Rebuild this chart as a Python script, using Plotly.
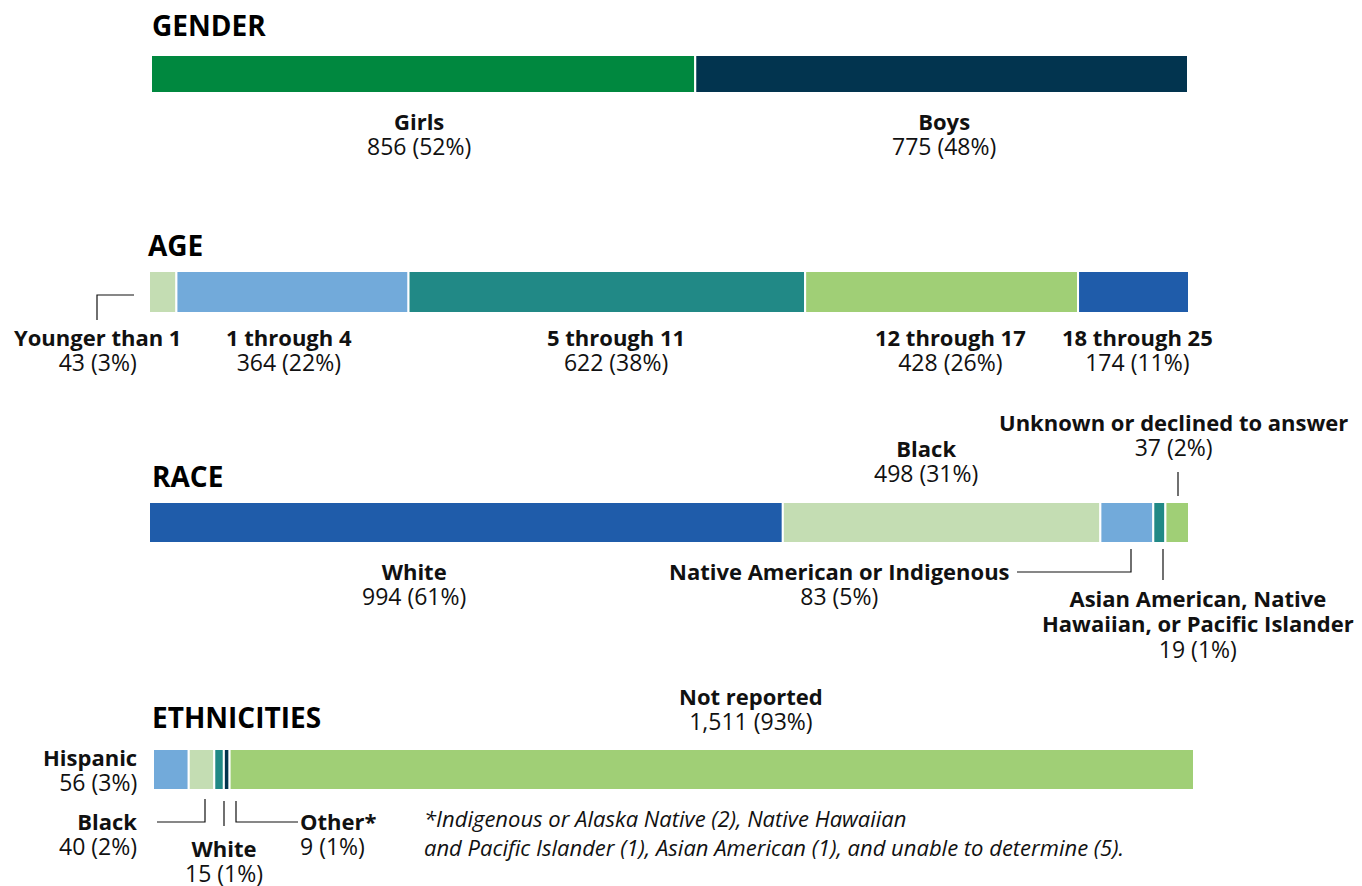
import plotly.graph_objects as go

W, H = 1362, 886

# ---------------- data ----------------
section_titles = ["GENDER", "AGE", "RACE", "ETHNICITIES"]

gender_labels = ["Girls", "Boys"]
gender_values = [856, 775]
gender_pcts = [52, 48]

age_labels = ["Younger than 1", "1 through 4", "5 through 11", "12 through 17", "18 through 25"]
age_values = [43, 364, 622, 428, 174]
age_pcts = [3, 22, 38, 26, 11]

race_labels = ["White", "Black", "Native American or Indigenous",
               "Asian American, Native<br>Hawaiian, or Pacific Islander",
               "Unknown or declined to answer"]
race_values = [994, 498, 83, 19, 37]
race_pcts = [61, 31, 5, 1, 2]

eth_labels = ["Hispanic", "Black", "White", "Other*", "Not reported"]
eth_values = [56, 40, 15, 9, 1511]
eth_pcts = [3, 2, 1, 1, 93]

footnote = ("*Indigenous or Alaska Native (2), Native Hawaiian<br>"
            "and Pacific Islander (1), Asian American (1), and unable to determine (5).")

# ---------------- styles / layout ----------------
FONT = "'Open Sans', Roboto, sans-serif"
TXT = "#111111"
C_GREEN = "#00883F"
C_NAVY = "#02344F"
C_PALE = "#C4DDB3"
C_LBLUE = "#72AADA"
C_TEAL = "#218986"
C_LGREEN = "#A0CF76"
C_BLUE = "#1F5CAA"

# pos entries: (x, y centre of the whole text block, anchor)
rows = [
    dict(labels=gender_labels, values=gender_values, pcts=gender_pcts,
         colors=[C_GREEN, C_NAVY], x0=151, x1=1188, y0=55, y1=93,
         title=(151, 25),
         pos=[(419, 133.5, "center"), (944, 133.5, "center")]),
    dict(labels=age_labels, values=age_values, pcts=age_pcts,
         colors=[C_PALE, C_LBLUE, C_TEAL, C_LGREEN, C_BLUE], x0=149, x1=1189, y0=271, y1=313,
         title=(147, 245),
         pos=[(97, 350.5, "center"), (289, 350.5, "center"), (616, 350.5, "center"),
              (950, 350.5, "center"), (1137, 350.5, "center")]),
    dict(labels=race_labels, values=race_values, pcts=race_pcts,
         colors=[C_BLUE, C_PALE, C_LBLUE, C_TEAL, C_LGREEN], x0=149, x1=1189, y0=502, y1=543,
         title=(151, 476),
         pos=[(414, 584, "center"), (926, 460.5, "center"), (839, 584, "center"),
              (1198, 624, "center"), (1173, 435, "center")]),
    dict(labels=eth_labels, values=eth_values, pcts=eth_pcts,
         colors=[C_LBLUE, C_PALE, C_TEAL, C_NAVY, C_LGREEN], x0=153, x1=1194, y0=749, y1=790,
         title=(151, 717),
         pos=[(138, 770, "right"), (138, 833.5, "right"), (224, 860.5, "center"),
              (299, 833.5, "left"), (751, 708.5, "center")]),
]

footnote_pos = (423, 832)

leaders = [
    [(97, 320), (97, 295), (134, 295)],
    [(1178, 472), (1178, 496)],
    [(1131, 549), (1131, 572), (1017, 572)],
    [(1163, 549), (1163, 580)],
    [(205, 799), (205, 822), (157, 822)],
    [(224, 801), (224, 826)],
    [(236, 801), (236, 822), (298, 822)],
]

BASE_SIZE = 19.5   # sets the 25-26 px line pitch
BOLD_SIZE = 22
VALUE_SIZE = 23
TITLE_SIZE = 28
NOTE_SIZE = 22


def px(x):
    return x / W


def py(y):
    return 1 - y / H


def text_ann(text, x, y, anchor, size, color=TXT):
    return dict(text=text, x=px(x), y=py(y), xref="paper", yref="paper",
                xanchor=anchor, yanchor="middle", align=anchor, showarrow=False,
                borderpad=0, font=dict(family=FONT, size=size, color=color))


fig = go.Figure()
annotations = []
layout_axes = {}

for i, r in enumerate(rows):
    n = "" if i == 0 else str(i + 1)
    total = sum(r["values"])
    bases = []
    acc = 0
    for v in r["values"]:
        bases.append(acc)
        acc += v
    fig.add_trace(go.Bar(
        orientation="h",
        x=r["values"], base=bases, y=[0] * len(r["values"]),
        width=1,
        marker=dict(color=r["colors"], line=dict(color="white", width=2)),
        xaxis="x" + n, yaxis="y" + n, showlegend=False, hoverinfo="skip",
    ))
    layout_axes["xaxis" + n] = dict(domain=[px(r["x0"]), px(r["x1"])], range=[0, total],
                                    visible=False, anchor="y" + n, fixedrange=True)
    layout_axes["yaxis" + n] = dict(domain=[py(r["y1"]), py(r["y0"])], range=[-0.5, 0.5],
                                    visible=False, anchor="x" + n, fixedrange=True)
    tx, ty = r["title"]
    annotations.append(text_ann(f"<b>{section_titles[i]}</b>", tx, ty, "left",
                                TITLE_SIZE, "#000000"))
    for lab, v, p, (lx, ly, al) in zip(r["labels"], r["values"], r["pcts"], r["pos"]):
        bold = "<br>".join(f"<span style='font-size:{BOLD_SIZE}px'><b>{part}</b></span>"
                           for part in lab.split("<br>"))
        val = f"<span style='font-size:{VALUE_SIZE}px'>{v:,} ({p}%)</span>"
        annotations.append(text_ann(bold + "<br>" + val, lx, ly, al, BASE_SIZE))

annotations.append(text_ann(f"<i>{footnote}</i>", footnote_pos[0], footnote_pos[1], "left",
                            NOTE_SIZE))

shapes = []
for pts in leaders:
    path = "M " + " L ".join(f"{px(x):.6f},{py(y):.6f}" for x, y in pts)
    shapes.append(dict(type="path", path=path, xref="paper", yref="paper",
                       line=dict(color=TXT, width=1.2)))

fig.update_layout(
    width=W, height=H,
    margin=dict(l=0, r=0, t=0, b=0),
    paper_bgcolor="white", plot_bgcolor="white",
    barmode="overlay",
    annotations=annotations, shapes=shapes,
    **layout_axes,
)

fig.write_html("out.html", config={"displayModeBar": False},
               post_script="document.body.style.margin='0';")
